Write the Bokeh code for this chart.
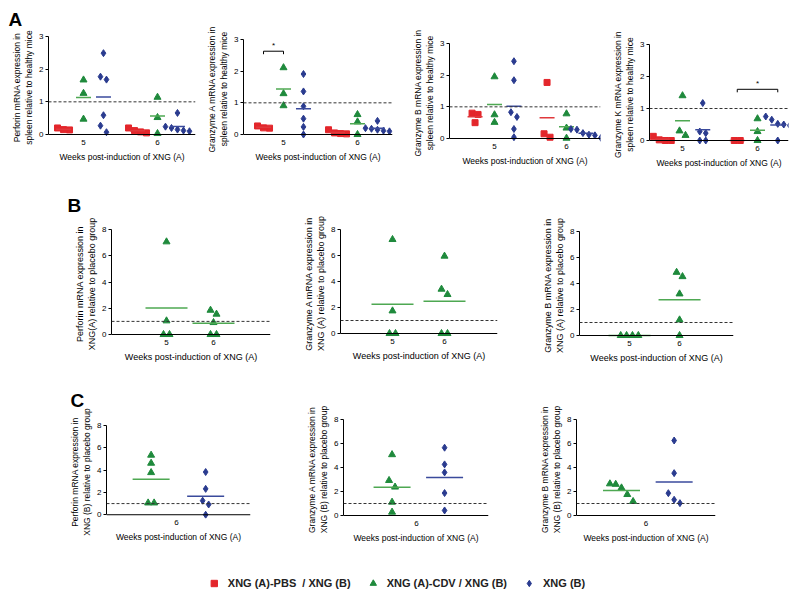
import numpy as np
from bokeh.plotting import figure
from bokeh.models import Span, FixedTicker, Legend, LegendItem, ColumnDataSource
from bokeh.layouts import column, row
from bokeh.core.properties import value
from bokeh.embed import file_html
from bokeh.resources import INLINE

# ---------------------------------------------------------------- data
weeks = ["5", "6"]
week_pos = [1, 2]
group_names = ["XNG (A)-PBS  / XNG (B)", "XNG (A)-CDV / XNG (B)", "XNG (B)"]
x_title = "Weeks post-induction of XNG (A)"

# Panel A : mRNA expression in spleen relative to healthy mice  [week 5, week 6]
perforin_A_pbs = [[0.20, 0.14, 0.15], [0.05, 0.20, 0.12, 0.08]]
perforin_A_cdv = [[1.67, 1.26, 0.47], [1.14, 0.52, 0.03]]
perforin_A_xngb = [[2.49, 1.77, 1.68, 0.59, 0.27, 0.07], [0.66, 0.24, 0.20, 0.15, 0.10, 0.12]]

granzA_A_pbs = [[0.27, 0.20, 0.21], [0.15, 0.05, 0.02, 0.03]]
granzA_A_cdv = [[2.11, 1.29, 0.91], [0.63, 0.40, 0.0]]
granzA_A_xngb = [[1.91, 1.36, 0.89, 0.50, 0.24, 0.0], [0.43, 0.20, 0.15, 0.12, 0.10, 0.18]]

granzB_A_pbs = [[0.80, 0.76, 0.50], [1.77, 0.15, 0.04]]
granzB_A_cdv = [[1.95, 0.75, 0.51], [0.78, 0.33, 0.01]]
granzB_A_xngb = [[2.44, 1.84, 0.83, 0.68, 0.30, 0.04], [0.30, 0.28, 0.17, 0.12, 0.02, 0.10]]

granzK_A_pbs = [[0.13, 0.02, 0.0, 0.0], [0.0, 0.0]]
granzK_A_cdv = [[1.40, 0.30, 0.16], [0.68, 0.28, 0.0]]
granzK_A_xngb = [[1.17, 0.28, 0.23, 0.0, 0.0], [0.75, 0.65, 0.52, 0.47, 0.50, 0.0]]

# significance brackets (week index, from group, to group, height)
sig_granzA_A = [(0, 0, 1, 2.63)]
sig_granzK_A = [(1, 0, 2, 1.60)]

# Panel B : XNG(A) relative to placebo group  [week 5, week 6]
perforin_B_cdv = [[7.06, 1.04, 0.0, 0.0], [1.85, 1.55, 0.91, 0.0, 0.0]]
granzA_B_cdv = [[7.23, 1.74, 0.0, 0.0], [5.95, 3.41, 3.00, 0.0, 0.0]]
granzB_B_cdv = [[0.0, 0.0, 0.0, 0.0], [4.86, 4.53, 3.20, 1.20, 0.0]]

# Panel C : XNG(B) relative to placebo group  [week 6 only]
perforin_C_cdv = [5.34, 4.62, 3.78, 1.06, 1.06]
perforin_C_xngb = [3.83, 2.32, 1.26, 0.92, 0.0]
granzA_C_cdv = [5.07, 2.92, 2.37, 1.11, 0.28]
granzA_C_xngb = [5.65, 4.26, 3.59, 1.87, 0.42]
granzB_C_cdv = [2.64, 2.60, 2.30, 1.75, 1.17]
granzB_C_xngb = [6.25, 3.53, 1.86, 1.31, 1.03]

A_yticks = [0, 1, 2, 3]
BC_yticks = [0, 2, 4, 6, 8]

# ---------------------------------------------------------------- style
FONT = "Liberation Sans"
RED, GREEN, BLUE = "#e3262b", "#1f8a3c", "#2a3b8f"
MEAN = {RED: "#e0393c", GREEN: "#4ea852", BLUE: "#3a4a9c"}
MARK = {RED: ("square", 6), GREEN: ("triangle", 7), BLUE: ("diamond", 7)}
PAD = 4


def spread(vals, tol, step):
    n = len(vals)
    offs = [0.0] * n
    if n == 0:
        return offs
    order = sorted(range(n), key=lambda i: -vals[i])
    clusters = [[order[0]]]
    for i in order[1:]:
        if abs(vals[clusters[-1][-1]] - vals[i]) < tol:
            clusters[-1].append(i)
        else:
            clusters.append([i])
    for c in clusters:
        m = len(c)
        for k, idx in enumerate(c):
            offs[idx] = (k - (m - 1) / 2) * step
    return offs


def build(spec, series, ylabel, ymax, yticks, ticks, fs, letter=None, sig=None, offsets=None):
    fig_l, fig_w, row_t, fig_h = spec["fig"]
    fl, fr, yt, y0 = spec["frame"]
    ref_x, ref_px, ppu_x = spec["xmap"]
    ppu_y = (y0 - yt) / ymax
    y_start = -PAD / ppu_y
    x_start = ref_x - (ref_px - fl) / ppu_x
    x_end = ref_x + (fr - ref_px) / ppu_x
    p = figure(width=fig_w, height=fig_h, x_range=(x_start, x_end), y_range=(y_start, ymax),
               output_backend="svg", toolbar_location=None,
               min_border_left=int(round(fl - fig_l)), min_border_right=int(round(fig_l + fig_w - fr)),
               min_border_top=int(round(yt - row_t)),
               min_border_bottom=int(round(row_t + fig_h - (y0 + PAD))))
    p.grid.visible = False
    p.outline_line_color = None

    # baseline (x axis line at zero) and reference line at 1
    p.add_layout(Span(location=0, dimension="width", line_color="black", line_width=1))
    p.add_layout(Span(location=1, dimension="width", line_dash="3 2", line_color="#333333", line_width=1))

    tol = 7.0 / ppu_y
    step = 6.0 / ppu_x
    for (wi, vals, color) in series:
        xc = ticks[wi] + offsets[color]
        offs = spread(vals, tol, step)
        src = ColumnDataSource(dict(x=[xc + o for o in offs], y=vals))
        mk, sz = MARK[color]
        p.scatter("x", "y", source=src, marker=mk, size=sz, fill_color=color, line_color=color)
        p.scatter(x=[xc], y=[float(np.mean(vals))], marker="dash", size=spec["mean_w"],
                  line_color=MEAN[color], line_width=1.5)

    if sig:
        cols = [RED, GREEN, BLUE]
        for (wi, ga, gb, h) in sig:
            xa = ticks[wi] + offsets[cols[ga]]
            xb = ticks[wi] + offsets[cols[gb]]
            d = 3.0 / ppu_y
            p.line(x=[xa, xa, xb, xb], y=[h - d, h, h, h - d], line_color="black", line_width=1)
            p.text(x=[(xa + xb) / 2], y=[h + 1.0 / ppu_y], text=["*"], text_align="center",
                   text_baseline="bottom", text_font=value(FONT), text_font_size="8px", text_color="black")

    xa = p.xaxis[0]
    ya = p.yaxis[0]
    xa.ticker = FixedTicker(ticks=ticks)
    xa.major_label_overrides = {t: w for t, w in zip(ticks, spec["tick_labels"])}
    ya.ticker = FixedTicker(ticks=yticks)
    ya.bounds = (0, ymax)
    for ax in (xa, ya):
        ax.axis_line_color = "black"
        ax.axis_line_width = 1
        ax.major_tick_line_color = "black"
        ax.minor_tick_line_color = None
        ax.major_tick_out = 3
        ax.major_tick_in = 0
        ax.major_label_standoff = 2
        ax.major_label_text_font = FONT
        ax.major_label_text_font_size = fs["tick"]
        ax.major_label_text_color = "black"
        ax.axis_label_text_font = FONT
        ax.axis_label_text_font_style = "normal"
        ax.axis_label_text_font_size = fs["label"]
        ax.axis_label_text_color = "black"
        ax.axis_label_standoff = 2
    xa.axis_line_color = None
    xa.major_tick_line_color = None
    xa.major_tick_out = 0
    xa.major_label_standoff = 1
    xa.axis_label_standoff = 4
    xa.axis_label = x_title
    ya.axis_label = ylabel

    if letter:
        lx, lstand = spec["letter"]
        p.title.text = letter
        p.title.align = "left"
        p.title.offset = lx - fl
        p.title.standoff = lstand
        p.title.text_font = FONT
        p.title.text_font_size = "19px"
        p.title.text_font_style = "bold"
        p.title.text_color = "black"
    return p


offA = {RED: -0.27, GREEN: 0.0, BLUE: 0.27}
offB = {GREEN: 0.0}
offC = {GREEN: -0.47, BLUE: 0.54}
fsA = {"tick": "8px", "label": "8.5px"}
fsB = {"tick": "8px", "label": "9px"}
fsC = {"tick": "8px", "label": "8.5px"}

specA = [
    dict(fig=(0, 204, 0, 172), frame=(48, 195, 36, 134), xmap=(1, 83, 74), letter=(8, 13)),
    dict(fig=(204, 206, 0, 172), frame=(243, 392, 39, 134), xmap=(1, 283, 74)),
    dict(fig=(410, 200, 0, 172), frame=(449, 600, 43, 138), xmap=(1, 494, 72)),
    dict(fig=(610, 190, 0, 172), frame=(649, 788, 44, 140), xmap=(1, 682, 75)),
]
for s in specA:
    s["mean_w"] = 15
    s["tick_labels"] = weeks
specB = [
    dict(fig=(0, 275, 172, 200), frame=(111, 270, 229, 334), xmap=(1, 166, 47), letter=(67, 28)),
    dict(fig=(275, 265, 172, 200), frame=(340, 497, 229, 333), xmap=(1, 392, 52)),
    dict(fig=(540, 260, 172, 200), frame=(576, 733, 231, 335), xmap=(1, 627, 51)),
]
for s in specB:
    s["mean_w"] = 42
    s["tick_labels"] = weeks
specC = [
    dict(fig=(0, 275, 372, 174), frame=(106, 250, 419, 514), xmap=(2, 176, 54), letter=(70, 30)),
    dict(fig=(275, 262, 372, 174), frame=(343, 488, 419, 515), xmap=(2, 416, 52)),
    dict(fig=(537, 263, 372, 174), frame=(571, 715, 419, 515), xmap=(2, 643, 54)),
]
for s in specC:
    s["mean_w"] = 37
    s["tick_labels"] = weeks[1:]


def weekly(pbs, cdv, xngb):
    out = []
    for wi in range(2):
        if pbs:
            out.append((wi, pbs[wi], RED))
        out.append((wi, cdv[wi], GREEN))
        if xngb:
            out.append((wi, xngb[wi], BLUE))
    return out


A_labels = ["Perforin mRNA expression in\nspleen relative to healthy mice",
            "Granzyme A mRNA expression in\nspleen relative to healthy mice",
            "Granzyme B mRNA expression in\nspleen relative to healthy mice",
            "Granzyme K mRNA expression in\nspleen relative to healthy mice"]
B_labels = ["Perforin mRNA expression in\nXNG(A) relative to placebo group",
            "Granzyme A mRNA expression in\nXNG (A) relative to placebo group",
            "Granzyme B mRNA expression in\nXNG (A) relative to placebo group"]
C_labels = ["Perforin mRNA expression in\nXNG (B) relative to placebo group",
            "Granzyme A mRNA expression in\nXNG (B) relative to placebo group",
            "Granzyme B mRNA expression in\nXNG (B) relative to placebo group"]

A_series = [weekly(perforin_A_pbs, perforin_A_cdv, perforin_A_xngb),
            weekly(granzA_A_pbs, granzA_A_cdv, granzA_A_xngb),
            weekly(granzB_A_pbs, granzB_A_cdv, granzB_A_xngb),
            weekly(granzK_A_pbs, granzK_A_cdv, granzK_A_xngb)]
A_sig = [None, sig_granzA_A, None, sig_granzK_A]
rowA = []
for i in range(4):
    rowA.append(build(specA[i], A_series[i], A_labels[i], 3, A_yticks, week_pos, fsA,
                      letter="A" if i == 0 else None, sig=A_sig[i], offsets=offA))

B_series = [weekly(None, perforin_B_cdv, None), weekly(None, granzA_B_cdv, None),
            weekly(None, granzB_B_cdv, None)]
rowB = [build(specB[i], B_series[i], B_labels[i], 8, BC_yticks, week_pos, fsB,
              letter="B" if i == 0 else None, offsets=offB) for i in range(3)]

C_series = [[(0, perforin_C_cdv, GREEN), (0, perforin_C_xngb, BLUE)],
            [(0, granzA_C_cdv, GREEN), (0, granzA_C_xngb, BLUE)],
            [(0, granzB_C_cdv, GREEN), (0, granzB_C_xngb, BLUE)]]
rowC = [build(specC[i], C_series[i], C_labels[i], 8, BC_yticks, week_pos[1:], fsC,
              letter="C" if i == 0 else None, offsets=offC) for i in range(3)]

# legend strip
leg = figure(width=800, height=49, x_range=(0, 1), y_range=(0, 1), output_backend="svg",
             toolbar_location=None, min_border=0, min_border_right=10)
leg.axis.visible = False
leg.grid.visible = False
leg.outline_line_color = None
rends = []
for c, vals in ((RED, perforin_A_pbs[0]), (GREEN, perforin_A_cdv[0]), (BLUE, perforin_A_xngb[0])):
    mk, sz = MARK[c]
    r = leg.scatter(x=[week_pos[0]] * len(vals), y=vals, marker=mk, size=sz, fill_color=c, line_color=c)
    r.visible = False
    rends.append(r)
legend = Legend(items=[LegendItem(label=n, renderers=[r]) for n, r in zip(group_names, rends)],
                orientation="horizontal", location="bottom_center", margin=4, padding=0,
                spacing=13, glyph_width=18, glyph_height=16, label_standoff=5,
                label_text_font=FONT, label_text_font_size="11px", label_text_font_style="bold",
                label_text_color="#222222", border_line_color=None, background_fill_alpha=0,
                inactive_fill_alpha=0)
leg.add_layout(legend, "center")

layout = column(row(*[column(f) for f in rowA]), row(*[column(f) for f in rowB]),
                row(*[column(f) for f in rowC]), leg, spacing=0)
open("out.html", "w").write(file_html(layout, INLINE))
